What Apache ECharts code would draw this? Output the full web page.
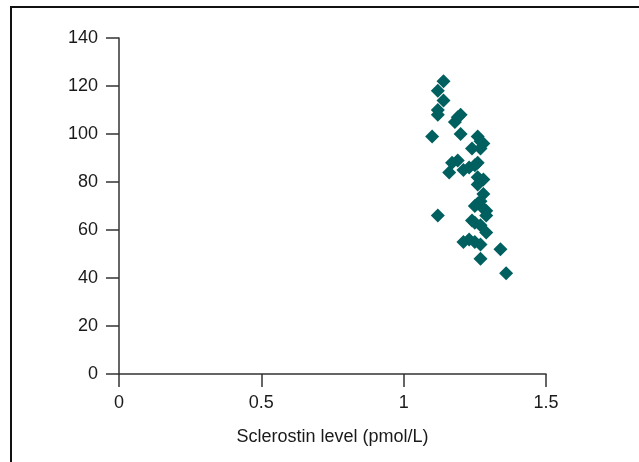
<!DOCTYPE html>
<html>
<head>
<meta charset="utf-8">
<script src="https://cdn.jsdelivr.net/npm/echarts@6/dist/echarts.min.js"></script>
<style>
  html, body { margin: 0; padding: 0; background: #fff; }
  #chart { width: 639px; height: 462px; }
</style>
</head>
<body>
<div id="chart"></div>
<script>
// sclerostin (pmol/L) vs y value
var sclerostin = [1.14, 1.12, 1.14, 1.12, 1.12, 1.18, 1.19, 1.20, 1.10, 1.20,
                  1.26, 1.28, 1.27, 1.24, 1.19, 1.17, 1.16, 1.21, 1.23, 1.25,
                  1.26, 1.26, 1.28, 1.26, 1.28, 1.27, 1.26, 1.28, 1.29, 1.29,
                  1.12, 1.24, 1.25, 1.27, 1.29, 1.21, 1.23, 1.25, 1.27, 1.34,
                  1.27, 1.36, 1.27, 1.25];
var yValues    = [122, 118, 114, 110, 108, 105, 107, 108, 99, 100,
                  99, 96, 94, 94, 89, 88, 84, 85, 86, 87,
                  88, 82, 81, 79, 75, 72, 71, 69, 68, 66,
                  66, 64, 63, 62, 59, 55, 56, 55, 54, 52,
                  48, 42, 97, 70];
var xTicks = [0, 0.5, 1, 1.5];
var yTicks = [0, 20, 40, 60, 80, 100, 120, 140];

var points = sclerostin.map(function (x, i) { return [x, yValues[i]]; });

var myChart = echarts.init(document.getElementById('chart'));
var axisColor = '#333';
var option = {
    animation: false,
    graphic: [{
        type: 'rect',
        shape: { x: 11, y: 7, width: 700, height: 520 },
        style: { fill: 'none', stroke: '#111', lineWidth: 2 },
        silent: true
    }],
    grid: { left: 119, right: 93, top: 38, bottom: 88 },
    xAxis: {
        type: 'value',
        min: xTicks[0],
        max: xTicks[xTicks.length - 1],
        interval: 0.5,
        name: 'Sclerostin level (pmol/L)',
        nameLocation: 'middle',
        nameGap: 54,
        nameTextStyle: { fontFamily: 'Liberation Sans', fontSize: 18, color: '#1a1a1a' },
        splitLine: { show: false },
        axisLine: { lineStyle: { color: axisColor, width: 1.5 } },
        axisTick: { length: 13, lineStyle: { color: axisColor, width: 1.5 } },
        axisLabel: { margin: 20, fontFamily: 'Liberation Sans', fontSize: 18, color: '#1a1a1a' }
    },
    yAxis: {
        type: 'value',
        min: yTicks[0],
        max: yTicks[yTicks.length - 1],
        interval: 20,
        splitLine: { show: false },
        axisLine: { show: true, lineStyle: { color: axisColor, width: 1.5 } },
        axisTick: { show: true, length: 13, lineStyle: { color: axisColor, width: 1.5 } },
        axisLabel: { margin: 21, fontFamily: 'Liberation Sans', fontSize: 18, color: '#1a1a1a' }
    },
    series: [{
        type: 'scatter',
        symbol: 'diamond',
        symbolSize: 14,
        itemStyle: { color: '#005f5f', opacity: 1 },
        data: points
    }]
};
myChart.setOption(option);
</script>
</body>
</html>
